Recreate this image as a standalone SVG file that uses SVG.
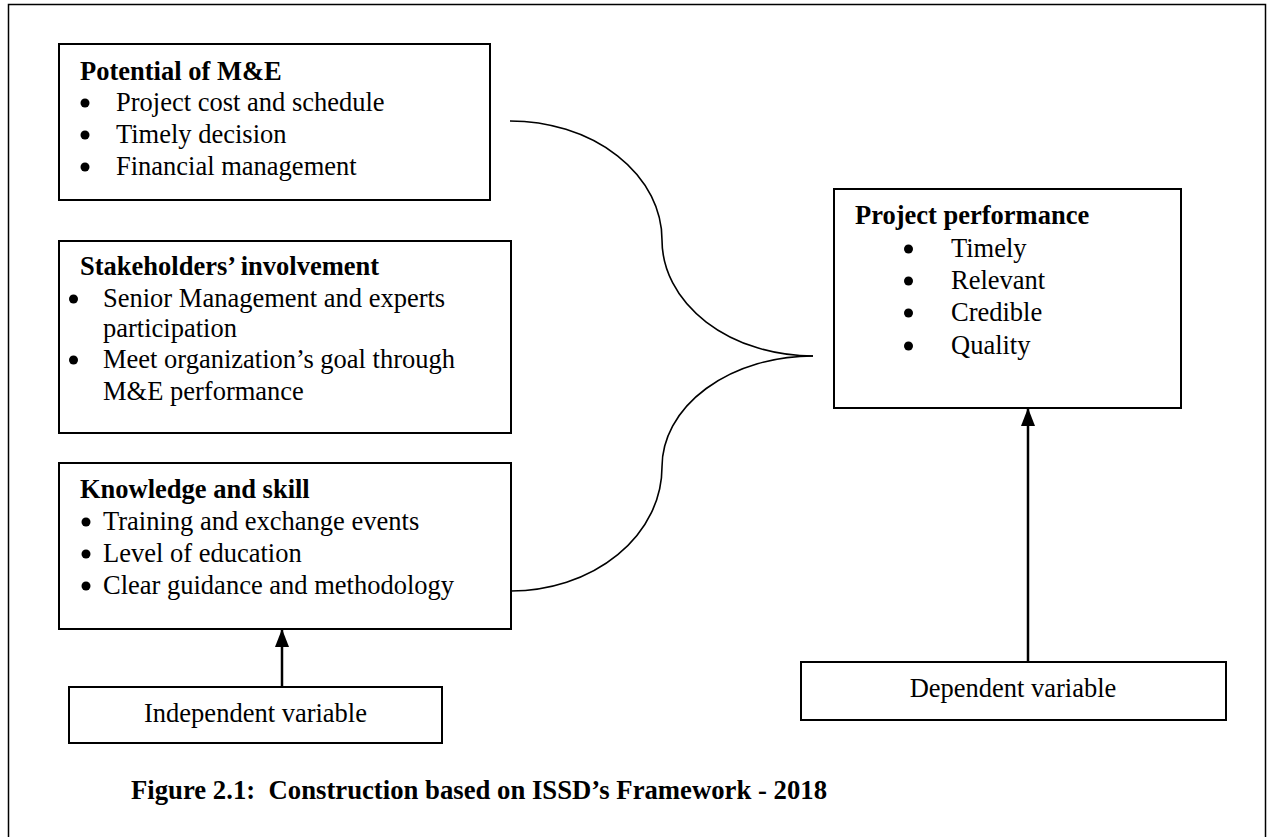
<svg xmlns="http://www.w3.org/2000/svg" width="1267" height="837" viewBox="0 0 1267 837">
<style>
.box{fill:#fff;stroke:#000;stroke-width:2}
.frame{fill:none;stroke:#000;stroke-width:1.5}
.t{font-family:"Liberation Serif","Times New Roman",serif;font-size:26.5px;fill:#000}
.b{font-weight:bold}
.c{text-anchor:middle}
.dot{fill:#000}
.curve{fill:none;stroke:#000;stroke-width:1.6}
.arrow{fill:none;stroke:#000;stroke-width:2.5}
</style>
<defs>
<marker id="ah" markerUnits="userSpaceOnUse" markerWidth="18" markerHeight="14" refX="17" refY="7" orient="auto" viewBox="0 0 18 14">
<path d="M0,0 L18,7 L0,14 Z" fill="#000"/>
</marker>
</defs>
<rect class="frame" x="8.5" y="4.5" width="1257" height="840"/>
<g id="potential">
<rect class="box" x="59" y="44" width="431" height="156"/>
<text class="t b" x="80" y="80">Potential of M&amp;E</text>
<circle class="dot" cx="85" cy="103" r="4.5"/><text class="t" x="116" y="111">Project cost and schedule</text>
<circle class="dot" cx="85" cy="135" r="4.5"/><text class="t" x="116" y="143">Timely decision</text>
<circle class="dot" cx="85" cy="167" r="4.5"/><text class="t" x="116" y="175">Financial management</text>
</g>
<g id="stakeholders">
<rect class="box" x="59" y="241" width="452" height="192"/>
<text class="t b" x="80" y="275">Stakeholders’ involvement</text>
<circle class="dot" cx="73.5" cy="299" r="4.5"/><text class="t" x="103" y="307">Senior Management and experts</text>
<text class="t" x="103" y="337">participation</text>
<circle class="dot" cx="73.5" cy="360" r="4.5"/><text class="t" x="103" y="368">Meet organization’s goal through</text>
<text class="t" x="103" y="400">M&amp;E performance</text>
</g>
<g id="knowledge">
<rect class="box" x="59" y="463" width="452" height="166"/>
<text class="t b" x="80" y="498">Knowledge and skill</text>
<circle class="dot" cx="86" cy="522" r="4.5"/><text class="t" x="103" y="530">Training and exchange events</text>
<circle class="dot" cx="86" cy="554" r="4.5"/><text class="t" x="103" y="562">Level of education</text>
<circle class="dot" cx="86" cy="586" r="4.5"/><text class="t" x="103" y="594">Clear guidance and methodology</text>
</g>
<g id="independent">
<rect class="box" x="69" y="687" width="373" height="56"/>
<text class="t c" x="255.5" y="722">Independent variable</text>
</g>
<g id="performance">
<rect class="box" x="834" y="189" width="347" height="219"/>
<text class="t b" x="855" y="224">Project performance</text>
<circle class="dot" cx="908.5" cy="249" r="4.5"/><text class="t" x="951" y="257">Timely</text>
<circle class="dot" cx="908.5" cy="281" r="4.5"/><text class="t" x="951" y="289">Relevant</text>
<circle class="dot" cx="908.5" cy="313" r="4.5"/><text class="t" x="951" y="321">Credible</text>
<circle class="dot" cx="908.5" cy="346" r="4.5"/><text class="t" x="951" y="354">Quality</text>
</g>
<g id="dependent">
<rect class="box" x="801" y="662" width="425" height="58"/>
<text class="t c" x="1013" y="697">Dependent variable</text>
</g>
<g id="connectors">
<path class="curve" d="M510,121 A152,119 0 0 1 662,240 A151,116 0 0 0 813,356"/>
<path class="curve" d="M511,591 A151,124 0 0 0 662,467 A151,111 0 0 1 813,356"/>
<line class="arrow" x1="282" y1="687" x2="282" y2="630" marker-end="url(#ah)"/>
<line class="arrow" x1="1028" y1="662" x2="1028" y2="409" marker-end="url(#ah)"/>
</g>
<text class="t b" x="131" y="799" xml:space="preserve" textLength="696" lengthAdjust="spacingAndGlyphs">Figure 2.1:  Construction based on ISSD’s Framework - 2018</text>
</svg>
